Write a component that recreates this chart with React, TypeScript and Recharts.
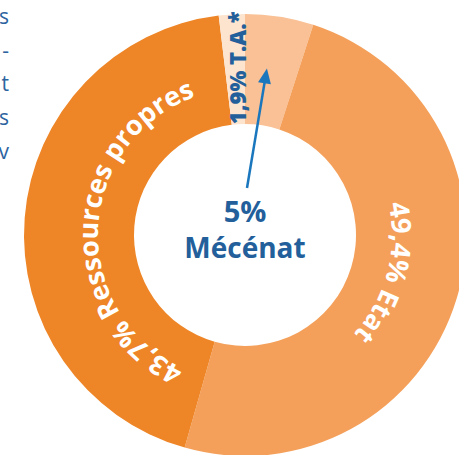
import React from 'react';
import { PieChart, Pie, Cell } from 'recharts';

// shares of the budget, clockwise from 12 o'clock
const segments = ['Mécénat', 'Etat', 'Ressources propres', 'T.A.*'];
const shares = [5, 49.4, 43.7, 1.9];

// ends of the paragraph lines cut off at the left edge of the page
const marginText = ['s', '-', 't', 's', 'v'];

const COLORS = ['#F9C195', '#F4A05B', '#EE8527', '#FCE4CF'];
const BLUE = '#23609B';
const ARROW = '#1A76BD';
const FONT = '"Open Sans", "Noto Sans", sans-serif';
const RAD = Math.PI / 180;
const ARC_SIZE = 27;

const data = segments.map((name, i) => ({ name, value: shares[i] }));

const fmt = (v: number) => `${String(v).replace('.', ',')}%`;

let measureCtx: CanvasRenderingContext2D | null = null;
const measure = (s: string) => {
  if (!measureCtx) measureCtx = document.createElement('canvas').getContext('2d');
  if (!measureCtx) return s.length * ARC_SIZE * 0.55;
  measureCtx.font = `700 ${ARC_SIZE}px "Open Sans"`;
  return measureCtx.measureText(s).width;
};

const renderLabel = (props: any) => {
  const { cx, cy, midAngle, innerRadius, outerRadius, index } = props;
  const entry = data[index];
  const midR = (innerRadius + outerRadius) / 2;

  if (entry.name === 'Mécénat') {
    // caption in the hole with an arrow pointing at the slice
    const a = (midAngle + 1.5) * RAD;
    const tip = [cx + (midR + 2) * Math.cos(a), cy - (midR + 2) * Math.sin(a)];
    const start = [cx + 2, cy - 47];
    const len = Math.hypot(tip[0] - start[0], tip[1] - start[1]);
    const ux = (tip[0] - start[0]) / len;
    const uy = (tip[1] - start[1]) / len;
    const bx = tip[0] - ux * 15;
    const by = tip[1] - uy * 15;
    return (
      <g>
        <line x1={start[0]} y1={start[1]} x2={bx + ux * 2} y2={by + uy * 2} stroke={ARROW} strokeWidth={2.5} />
        <polygon
          points={`${tip[0]},${tip[1]} ${bx - uy * 6.5},${by + ux * 6.5} ${bx + uy * 6.5},${by - ux * 6.5}`}
          fill={ARROW}
        />
        <text x={cx} y={cy - 13} textAnchor="middle" fill={BLUE} fontFamily={FONT} fontWeight={700} fontSize={29}>
          {fmt(entry.value)}
        </text>
        <text x={cx} y={cy + 23} textAnchor="middle" fill={BLUE} fontFamily={FONT} fontWeight={700} fontSize={28}>
          {entry.name}
        </text>
      </g>
    );
  }

  if (entry.name === 'T.A.*') {
    // narrow slice: straight text reading upwards
    const x = cx + midR * Math.cos(midAngle * RAD) + 2;
    const y = cy - midR * Math.sin(midAngle * RAD) - 1.5;
    return (
      <text
        x={x}
        y={y}
        transform={`rotate(-90 ${x} ${y})`}
        textAnchor="middle"
        dominantBaseline="central"
        fill={BLUE}
        fontFamily={FONT}
        fontWeight={800}
        fontSize={22}
      >
        {`${fmt(entry.value)} ${entry.name}`}
      </text>
    );
  }

  // big slices: white text curved along the ring, clockwise, one text per word
  const r = innerRadius + 36;
  const centre = midAngle + 2;
  const p = (deg: number) => [cx + r * Math.cos(deg * RAD), cy - r * Math.sin(deg * RAD)];
  const [x1, y1] = p(centre + 85);
  const [x2, y2] = p(centre - 85);
  const pathLen = r * 170 * RAD;
  const id = `ring-arc-${index}`;
  const full = `${fmt(entry.value)} ${entry.name}`;
  const words = full.split(' ');
  const total = measure(full);
  const begin = pathLen / 2 - total / 2;
  return (
    <g>
      <path id={id} d={`M ${x1} ${y1} A ${r} ${r} 0 0 1 ${x2} ${y2}`} fill="none" stroke="none" />
      {words.map((w, i) => {
        const before = i === 0 ? 0 : measure(words.slice(0, i).join(' ') + ' ');
        return (
          <text key={i} fill="#ffffff" fontFamily={FONT} fontWeight={700} fontSize={ARC_SIZE}>
            <textPath href={`#${id}`} startOffset={begin + before} textAnchor="start">
              {w}
            </textPath>
          </text>
        );
      })}
    </g>
  );
};

export default function App() {
  return (
    <div style={{ position: 'absolute', left: 0, top: 0, width: 459, height: 455, overflow: 'hidden', background: '#fff' }}>
      {marginText.map((t, i) => (
        <div
          key={i}
          style={{
            position: 'absolute',
            left: -20,
            width: 29,
            top: 1 + i * 33.7,
            textAlign: 'right',
            fontFamily: FONT,
            fontSize: 21,
            lineHeight: '30px',
            color: '#2D64A0',
          }}
        >
          {t}
        </div>
      ))}
      <PieChart width={459} height={455} style={{ position: 'absolute', left: 0, top: 0 }}>
        <Pie
          data={data}
          dataKey="value"
          nameKey="name"
          cx={240}
          cy={230}
          innerRadius={111}
          outerRadius={221}
          startAngle={90}
          endAngle={-270}
          stroke="none"
          label={renderLabel}
          labelLine={false}
          isAnimationActive={false}
        >
          {data.map((d, i) => (
            <Cell key={d.name} fill={COLORS[i]} />
          ))}
        </Pie>
      </PieChart>
    </div>
  );
}
